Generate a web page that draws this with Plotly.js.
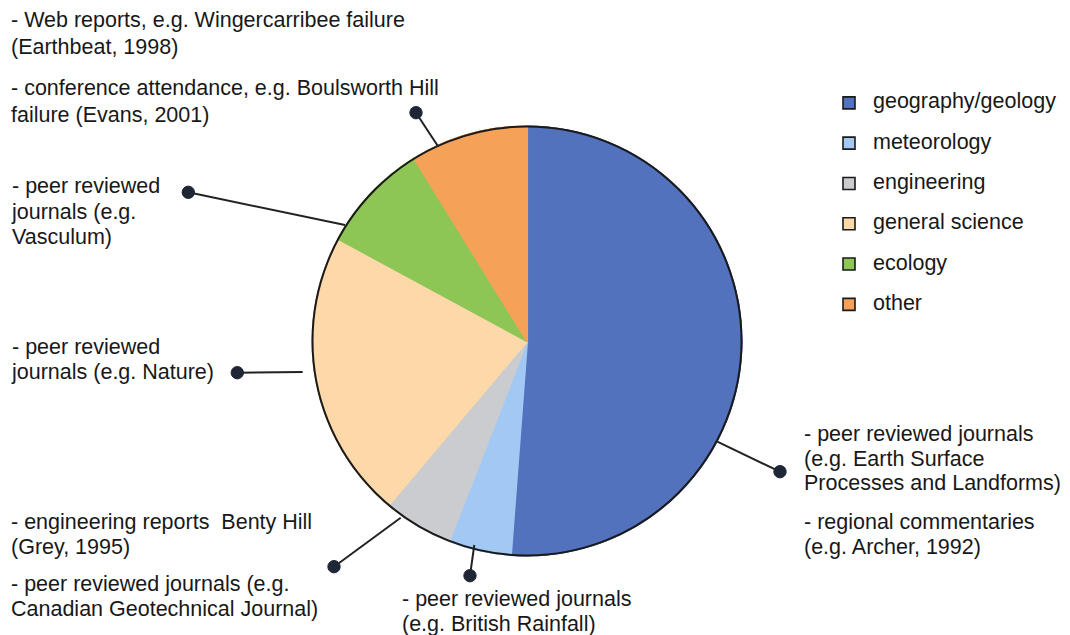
<!DOCTYPE html>
<html>
<head>
<meta charset="utf-8">
<script src="https://cdn.plot.ly/plotly-3.0.1.min.js"></script>
<style>
  html, body { margin: 0; padding: 0; background: #ffffff; }
  #chart { width: 1070px; height: 635px; }
</style>
</head>
<body>
<div id="chart"></div>
<script>
// ---- data ----
const categories = ['geography/geology', 'meteorology', 'engineering', 'general science', 'ecology', 'other'];
const shares = [51.2, 4.7, 5.25, 21.75, 8.3, 8.8];
const sliceColors = ['#5272be', '#a2c9f4', '#cbcccf', '#fdd8a8', '#8dc655', '#f5a258'];

const noteTexts = [
  ['- Web reports, e.g. Wingercarribee failure', '(Earthbeat, 1998)'],
  ['- conference attendance, e.g. Boulsworth Hill', 'failure (Evans, 2001)'],
  ['- peer reviewed', 'journals (e.g.', 'Vasculum)'],
  ['- peer reviewed', 'journals (e.g. Nature)'],
  ['- engineering reports  Benty Hill', '(Grey, 1995)'],
  ['- peer reviewed journals (e.g.', 'Canadian Geotechnical Journal)'],
  ['- peer reviewed journals', '(e.g. British Rainfall)'],
  ['- peer reviewed journals', '(e.g. Earth Surface', 'Processes and Landforms)'],
  ['- regional commentaries', '(e.g. Archer, 1992)']
];

// ---- layout helpers (pixel -> paper) ----
const W = 1070, H = 635;
const px = x => x / W;
const py = y => 1 - y / H;

// note placement: left x (px), vertical centre (px), line spacing (px)
const notePos = [
  [12, 33.5, 27], [12, 101.5, 27], [12, 211.5, 25.5], [12, 359.5, 25],
  [12, 534.5, 25], [12, 596.5, 25], [403, 611, 24.5], [805, 458.5, 24.5], [805, 534.5, 25]
];
const TEXT_PX = 21.5;
const FONT = 'Liberation Sans, Arial, Helvetica, sans-serif';

const annotations = noteTexts.map((lines, i) => {
  const [x, yc, sp] = notePos[i];
  return {
    xref: 'paper', yref: 'paper',
    x: px(x - 3), y: py(yc),
    xanchor: 'left', yanchor: 'middle', align: 'left',
    showarrow: false,
    text: lines.map(l => '<span style="font-size:' + TEXT_PX + 'px">' + l + '</span>').join('<br>'),
    font: { family: FONT, size: sp / 1.3, color: '#181818' }
  };
});

// leader lines: [pie end x, y, dot x, y] in px
const leaders = [
  [438.3, 146.7, 416, 112.7],
  [345, 225, 188.3, 192.3],
  [302.7, 372, 237.3, 372.7],
  [400.7, 517.7, 334, 566.7],
  [474.3, 545, 470, 575.7],
  [717.3, 441.7, 780, 471.7]
];
const shapes = [];
leaders.forEach(([x0, y0, x1, y1]) => {
  shapes.push({ type: 'line', xref: 'paper', yref: 'paper',
    x0: px(x0), y0: py(y0), x1: px(x1), y1: py(y1),
    line: { color: '#222222', width: 2 } });
  shapes.push({ type: 'circle', xref: 'paper', yref: 'paper',
    xsizemode: 'pixel', ysizemode: 'pixel',
    xanchor: px(x1), yanchor: py(y1),
    x0: -6.2, x1: 6.2, y0: -6.2, y1: 6.2,
    fillcolor: '#1f2636', line: { color: '#1f2636', width: 1 } });
});

// legend labels (first line holds the text, spacer line sets row height)
const legendLabels = categories.map(c => '<span style="font-size:' + TEXT_PX + 'px">' + c + '</span><br> ');

const cx = 527, cy = 341, r = 214.5;
const domain = { x: [px(cx - r), px(cx + r)], y: [py(cy + r), py(cy - r)] };

// main pie (legend source, dark outlines on legend squares)
const pieMain = {
  type: 'pie', labels: legendLabels, values: shares,
  sort: false, direction: 'clockwise', rotation: 0,
  textinfo: 'none', hoverinfo: 'skip',
  marker: { colors: sliceColors, line: { color: '#1a1a1a', width: 1.6 } },
  domain: domain
};
// same slices without dark separators
const pieFill = {
  type: 'pie', labels: legendLabels, values: shares,
  sort: false, direction: 'clockwise', rotation: 0,
  textinfo: 'none', hoverinfo: 'skip', showlegend: false,
  marker: { colors: sliceColors, line: { color: sliceColors, width: 2.2 } },
  domain: domain
};
// outer rim
const pieRim = {
  type: 'pie', labels: ['rim'], values: [1],
  sort: false, textinfo: 'none', hoverinfo: 'skip', showlegend: false,
  marker: { colors: ['rgba(0,0,0,0)'], line: { color: '#1a1a1a', width: 2 } },
  domain: domain
};

const layout = {
  width: W, height: H,
  margin: { l: 0, r: 0, t: 0, b: 0 },
  paper_bgcolor: '#ffffff',
  showlegend: true,
  legend: {
    x: px(825), y: py(87), xanchor: 'left', yanchor: 'top',
    valign: 'top', itemwidth: 38,
    font: { family: FONT, size: 14.35, color: '#181818' },
    bgcolor: 'rgba(0,0,0,0)', borderwidth: 0,
    itemclick: false, itemdoubleclick: false
  },
  annotations: annotations,
  shapes: shapes
};

Plotly.newPlot('chart', [pieMain, pieFill, pieRim], layout, { displayModeBar: false, staticPlot: true });
</script>
</body>
</html>
